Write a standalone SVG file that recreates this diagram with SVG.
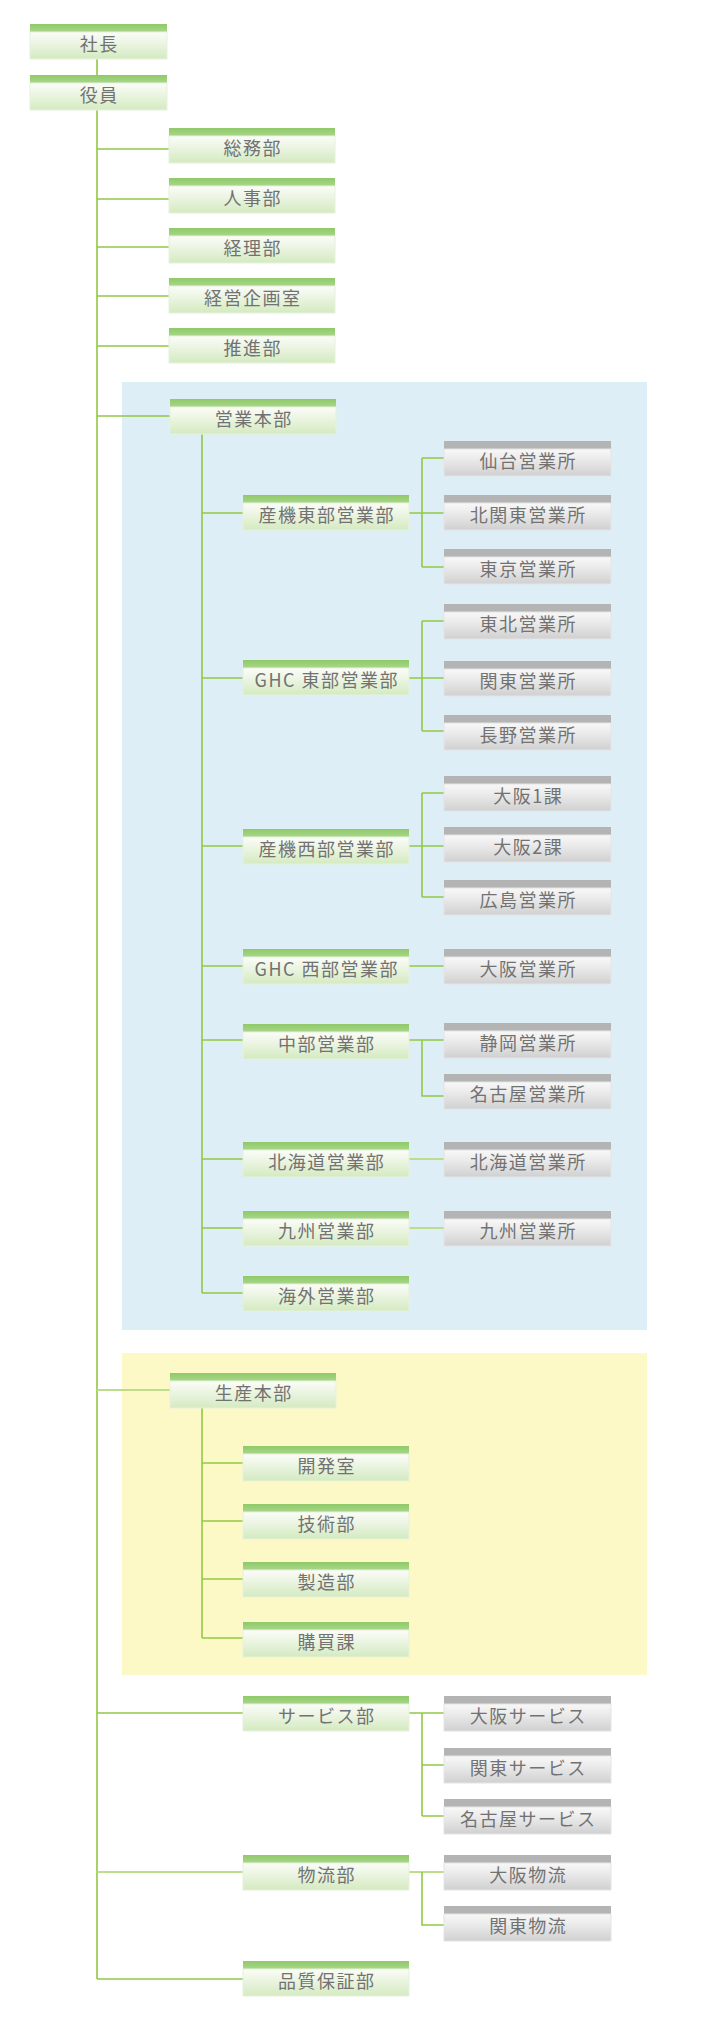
<svg xmlns="http://www.w3.org/2000/svg" width="715" height="2021" viewBox="0 0 715 2021">
<defs>
<linearGradient id="gbar" x1="0" y1="0" x2="0" y2="1"><stop offset="0" stop-color="#8fc968"/><stop offset="1" stop-color="#a9d68a"/></linearGradient>
<linearGradient id="gbody" x1="0" y1="0" x2="0" y2="1"><stop offset="0" stop-color="#fbfdf8"/><stop offset="0.35" stop-color="#eef6e6"/><stop offset="1" stop-color="#d4eac0"/></linearGradient>
<linearGradient id="hbody" x1="0" y1="0" x2="0" y2="1"><stop offset="0" stop-color="#f8f8f8"/><stop offset="0.35" stop-color="#ececec"/><stop offset="1" stop-color="#d0d0d0"/></linearGradient>
<style>
.gb{fill:url(#gbar)}
.gd{fill:url(#gbody);stroke:#e6f1dc;stroke-width:1}
.hb{fill:#b4b4b4}
.hd{fill:url(#hbody);stroke:#e4e4e4;stroke-width:1}
text{font-family:"Noto Sans CJK JP","Noto Sans",sans-serif;font-size:18px;fill:#727272;text-anchor:middle;letter-spacing:1.5px}
.c{stroke:#93c845;stroke-width:1.6;fill:none}
.l{stroke:#bddd8c;stroke-width:1.8;fill:none}
</style>
</defs>
<rect x="122" y="382" width="525" height="948" fill="#ddeef6"/>
<rect x="122" y="1353" width="525" height="322" fill="#fdf9c6"/>
<g id="connectors">
<path class="c" d="M97 59V75M97 109V1979M97 149H169M97 199H169M97 247H169M97 296H169M97 346H169M97 416H170"/>
<path class="l" d="M97 1390H170M97 1872H243"/>
<path class="c" d="M97 1713H243M97 1979H243"/>
<path class="c" d="M202 434V1293M202 513H243M202 678H243M202 846H243M202 966H243M202 1040H243M202 1159H243M202 1228H243M202 1293H243"/>
<path class="c" d="M202 1407V1638M202 1463H243M202 1521H243M202 1579H243M202 1638H243"/>
<path class="c" d="M409 513H444M422 458V567M422 458H444M422 567H444"/>
<path class="c" d="M409 678H444M422 621V731M422 621H444M422 731H444"/>
<path class="c" d="M409 846H444M422 793V897M422 793H444M422 897H444"/>
<path class="c" d="M409 966H444"/>
<path class="c" d="M409 1040H444M422 1040V1096H444"/>
<path class="l" d="M409 1159H444M409 1228H444"/>
<path class="c" d="M409 1713H444M422 1713V1816M422 1765H444M422 1816H444"/>
<path class="l" d="M409 1872H444"/>
<path class="c" d="M422 1872V1925H444"/>
</g>
<g id="n-shacho"><rect class="gb" x="30" y="24" width="137" height="8"/><rect class="gd" x="30" y="32" width="137" height="27"/><text x="99.3" y="51">社長</text></g>
<g id="n-yakuin"><rect class="gb" x="30" y="75" width="137" height="8"/><rect class="gd" x="30" y="83" width="137" height="27"/><text x="99.3" y="102">役員</text></g>
<g id="n-somu"><rect class="gb" x="169" y="128" width="166" height="8"/><rect class="gd" x="169" y="136" width="166" height="27"/><text x="252.8" y="155">総務部</text></g>
<g id="n-jinji"><rect class="gb" x="169" y="178" width="166" height="8"/><rect class="gd" x="169" y="186" width="166" height="27"/><text x="252.8" y="205">人事部</text></g>
<g id="n-keiri"><rect class="gb" x="169" y="228" width="166" height="8"/><rect class="gd" x="169" y="236" width="166" height="27"/><text x="252.8" y="255">経理部</text></g>
<g id="n-keiei"><rect class="gb" x="169" y="278" width="166" height="8"/><rect class="gd" x="169" y="286" width="166" height="27"/><text x="252.8" y="305">経営企画室</text></g>
<g id="n-suishin"><rect class="gb" x="169" y="328" width="166" height="8"/><rect class="gd" x="169" y="336" width="166" height="27"/><text x="252.8" y="355">推進部</text></g>
<g id="n-eigyohonbu"><rect class="gb" x="170" y="399" width="166" height="8"/><rect class="gd" x="170" y="407" width="166" height="27"/><text x="253.8" y="426">営業本部</text></g>
<g id="n-sankihigashi"><rect class="gb" x="243" y="495" width="166" height="8"/><rect class="gd" x="243" y="503" width="166" height="27"/><text x="326.8" y="522">産機東部営業部</text></g>
<g id="n-ghchigashi"><rect class="gb" x="243" y="660" width="166" height="8"/><rect class="gd" x="243" y="668" width="166" height="27"/><text x="326.8" y="687">GHC 東部営業部</text></g>
<g id="n-sankinishi"><rect class="gb" x="243" y="829" width="166" height="8"/><rect class="gd" x="243" y="837" width="166" height="27"/><text x="326.8" y="856">産機西部営業部</text></g>
<g id="n-ghcnishi"><rect class="gb" x="243" y="949" width="166" height="8"/><rect class="gd" x="243" y="957" width="166" height="27"/><text x="326.8" y="976">GHC 西部営業部</text></g>
<g id="n-chubu"><rect class="gb" x="243" y="1024" width="166" height="8"/><rect class="gd" x="243" y="1032" width="166" height="27"/><text x="326.8" y="1051">中部営業部</text></g>
<g id="n-hokkaidobu"><rect class="gb" x="243" y="1142" width="166" height="8"/><rect class="gd" x="243" y="1150" width="166" height="27"/><text x="326.8" y="1169">北海道営業部</text></g>
<g id="n-kyushubu"><rect class="gb" x="243" y="1211" width="166" height="8"/><rect class="gd" x="243" y="1219" width="166" height="27"/><text x="326.8" y="1238">九州営業部</text></g>
<g id="n-kaigai"><rect class="gb" x="243" y="1276" width="166" height="8"/><rect class="gd" x="243" y="1284" width="166" height="27"/><text x="326.8" y="1303">海外営業部</text></g>
<g id="n-sendai"><rect class="hb" x="444" y="441" width="167" height="8"/><rect class="hd" x="444" y="449" width="167" height="27"/><text x="528.3" y="468">仙台営業所</text></g>
<g id="n-kitakanto"><rect class="hb" x="444" y="495" width="167" height="8"/><rect class="hd" x="444" y="503" width="167" height="27"/><text x="528.3" y="522">北関東営業所</text></g>
<g id="n-tokyo"><rect class="hb" x="444" y="549" width="167" height="8"/><rect class="hd" x="444" y="557" width="167" height="27"/><text x="528.3" y="576">東京営業所</text></g>
<g id="n-tohoku"><rect class="hb" x="444" y="604" width="167" height="8"/><rect class="hd" x="444" y="612" width="167" height="27"/><text x="528.3" y="631">東北営業所</text></g>
<g id="n-kanto"><rect class="hb" x="444" y="661" width="167" height="8"/><rect class="hd" x="444" y="669" width="167" height="27"/><text x="528.3" y="688">関東営業所</text></g>
<g id="n-nagano"><rect class="hb" x="444" y="715" width="167" height="8"/><rect class="hd" x="444" y="723" width="167" height="27"/><text x="528.3" y="742">長野営業所</text></g>
<g id="n-osaka1"><rect class="hb" x="444" y="776" width="167" height="8"/><rect class="hd" x="444" y="784" width="167" height="27"/><text x="528.3" y="803">大阪1課</text></g>
<g id="n-osaka2"><rect class="hb" x="444" y="827" width="167" height="8"/><rect class="hd" x="444" y="835" width="167" height="27"/><text x="528.3" y="854">大阪2課</text></g>
<g id="n-hiroshima"><rect class="hb" x="444" y="880" width="167" height="8"/><rect class="hd" x="444" y="888" width="167" height="27"/><text x="528.3" y="907">広島営業所</text></g>
<g id="n-osakaeigyo"><rect class="hb" x="444" y="949" width="167" height="8"/><rect class="hd" x="444" y="957" width="167" height="27"/><text x="528.3" y="976">大阪営業所</text></g>
<g id="n-shizuoka"><rect class="hb" x="444" y="1023" width="167" height="8"/><rect class="hd" x="444" y="1031" width="167" height="27"/><text x="528.3" y="1050">静岡営業所</text></g>
<g id="n-nagoya"><rect class="hb" x="444" y="1074" width="167" height="8"/><rect class="hd" x="444" y="1082" width="167" height="27"/><text x="528.3" y="1101">名古屋営業所</text></g>
<g id="n-hokkaidosho"><rect class="hb" x="444" y="1142" width="167" height="8"/><rect class="hd" x="444" y="1150" width="167" height="27"/><text x="528.3" y="1169">北海道営業所</text></g>
<g id="n-kyushusho"><rect class="hb" x="444" y="1211" width="167" height="8"/><rect class="hd" x="444" y="1219" width="167" height="27"/><text x="528.3" y="1238">九州営業所</text></g>
<g id="n-seisanhonbu"><rect class="gb" x="170" y="1373" width="166" height="8"/><rect class="gd" x="170" y="1381" width="166" height="27"/><text x="253.8" y="1400">生産本部</text></g>
<g id="n-kaihatsu"><rect class="gb" x="243" y="1446" width="166" height="8"/><rect class="gd" x="243" y="1454" width="166" height="27"/><text x="326.8" y="1473">開発室</text></g>
<g id="n-gijutsu"><rect class="gb" x="243" y="1504" width="166" height="8"/><rect class="gd" x="243" y="1512" width="166" height="27"/><text x="326.8" y="1531">技術部</text></g>
<g id="n-seizo"><rect class="gb" x="243" y="1562" width="166" height="8"/><rect class="gd" x="243" y="1570" width="166" height="27"/><text x="326.8" y="1589">製造部</text></g>
<g id="n-kobai"><rect class="gb" x="243" y="1622" width="166" height="8"/><rect class="gd" x="243" y="1630" width="166" height="27"/><text x="326.8" y="1649">購買課</text></g>
<g id="n-service"><rect class="gb" x="243" y="1696" width="166" height="8"/><rect class="gd" x="243" y="1704" width="166" height="27"/><text x="326.8" y="1723">サービス部</text></g>
<g id="n-osakaservice"><rect class="hb" x="444" y="1696" width="167" height="8"/><rect class="hd" x="444" y="1704" width="167" height="27"/><text x="528.3" y="1723">大阪サービス</text></g>
<g id="n-kantoservice"><rect class="hb" x="444" y="1748" width="167" height="8"/><rect class="hd" x="444" y="1756" width="167" height="27"/><text x="528.3" y="1775">関東サービス</text></g>
<g id="n-nagoyaservice"><rect class="hb" x="444" y="1799" width="167" height="8"/><rect class="hd" x="444" y="1807" width="167" height="27"/><text x="528.3" y="1826">名古屋サービス</text></g>
<g id="n-butsuryu"><rect class="gb" x="243" y="1855" width="166" height="8"/><rect class="gd" x="243" y="1863" width="166" height="27"/><text x="326.8" y="1882">物流部</text></g>
<g id="n-osakabutsuryu"><rect class="hb" x="444" y="1855" width="167" height="8"/><rect class="hd" x="444" y="1863" width="167" height="27"/><text x="528.3" y="1882">大阪物流</text></g>
<g id="n-kantobutsuryu"><rect class="hb" x="444" y="1906" width="167" height="8"/><rect class="hd" x="444" y="1914" width="167" height="27"/><text x="528.3" y="1933">関東物流</text></g>
<g id="n-hinshitsu"><rect class="gb" x="243" y="1961" width="166" height="8"/><rect class="gd" x="243" y="1969" width="166" height="27"/><text x="326.8" y="1988">品質保証部</text></g>
</svg>
